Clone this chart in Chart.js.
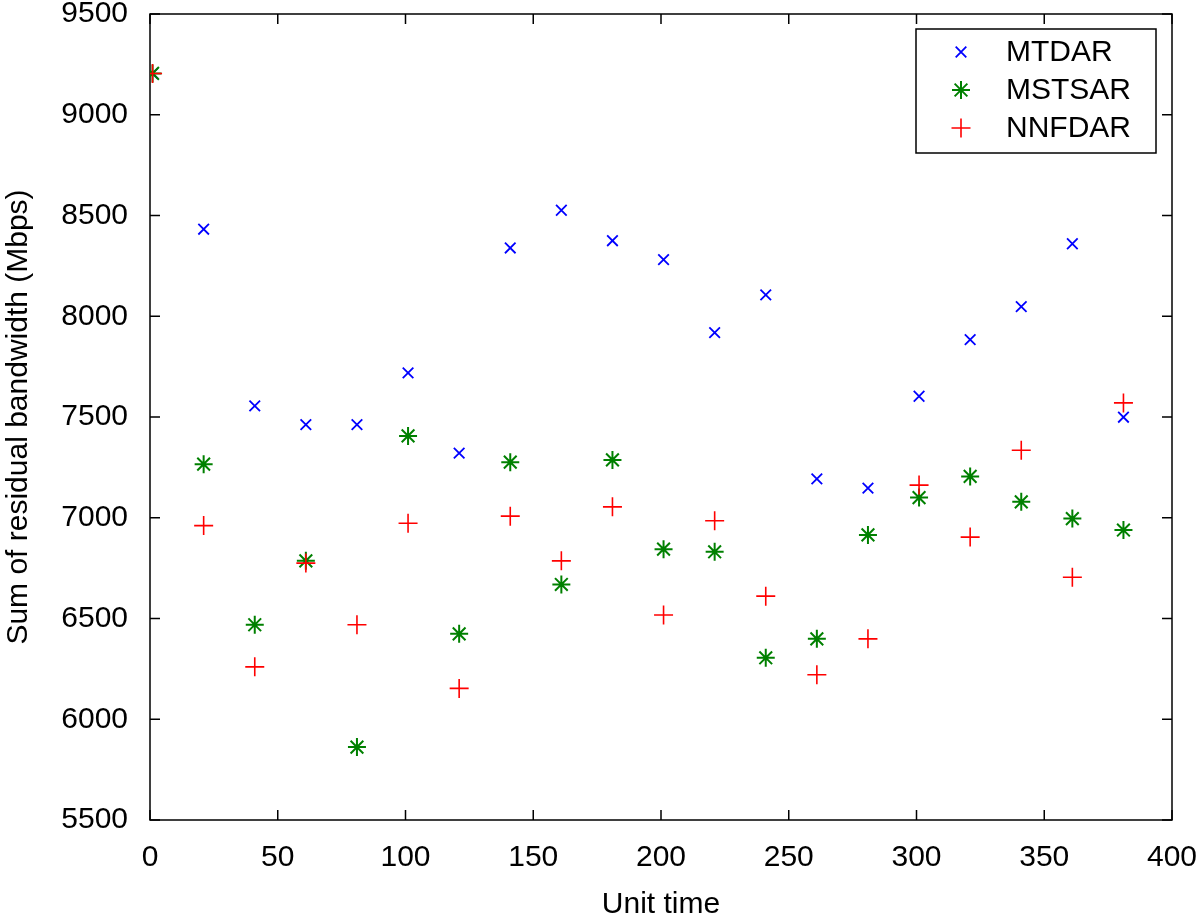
<!DOCTYPE html>
<html>
<head>
<meta charset="utf-8">
<script src="https://cdn.jsdelivr.net/npm/chart.js@4.4.1/dist/chart.umd.min.js"></script>
<style>
  html, body { margin: 0; padding: 0; background: #fff; }
  canvas { display: block; }
</style>
</head>
<body>
<canvas id="myChart" width="1200" height="924"></canvas>
<script>
// time steps (x) and residual bandwidth per method
const timeSteps = [1, 21, 41, 61, 81, 101, 121, 141, 161, 181, 201, 221, 241, 261, 281, 301, 321, 341, 361, 381]
const mtdar  = [9205, 8432, 7555, 7462, 7462, 7719, 7321, 8339, 8526, 8375, 8281, 7919, 8106, 7193, 7147, 7603, 7884, 8048, 8360, 7499]
const mstsar = [9205, 7266, 6469, 6786, 5862, 7406, 6424, 7276, 6669, 7287, 6844, 6831, 6305, 6399, 6915, 7100, 7205, 7079, 6996, 6939]
const nnfdar = [9205, 6961, 6260, 6775, 6469, 6973, 6153, 7008, 6786, 7054, 6517, 6985, 6611, 6221, 6399, 7162, 6904, 7335, 6705, 7570]
const seriesNames = ['MTDAR', 'MSTSAR', 'NNFDAR']
const xTickStep = 50
const yTickStep = 500

const fontFamily = '"Liberation Sans", Arial, Helvetica, sans-serif'

function toPoints(values) {
  return values.map((v, i) => ({ x: timeSteps[i], y: v }))
}

// frame with inward ticks on all four sides
const frameTicks = {
  id: 'frameTicks',
  beforeDatasetsDraw(chart) {
    const { ctx, chartArea: a, scales } = chart
    const len = 10
    ctx.save()
    ctx.strokeStyle = '#000'
    ctx.lineWidth = 1.5
    ctx.beginPath()
    scales.x.ticks.forEach(t => {
      const px = scales.x.getPixelForValue(t.value)
      ctx.moveTo(px, a.bottom); ctx.lineTo(px, a.bottom - len)
      ctx.moveTo(px, a.top); ctx.lineTo(px, a.top + len)
    })
    scales.y.ticks.forEach(t => {
      const py = scales.y.getPixelForValue(t.value)
      ctx.moveTo(a.left, py); ctx.lineTo(a.left + len, py)
      ctx.moveTo(a.right, py); ctx.lineTo(a.right - len, py)
    })
    ctx.stroke()
    ctx.strokeRect(a.left, a.top, a.right - a.left, a.bottom - a.top)
    ctx.restore()
  }
}

// legend box in the upper right corner of the plot
const boxLegend = {
  id: 'boxLegend',
  afterDraw(chart) {
    const { ctx, chartArea: a } = chart
    const boxW = 240, boxH = 124
    const bx = a.right - 16 - boxW
    const by = a.top + 15
    ctx.save()
    ctx.fillStyle = '#fff'
    ctx.fillRect(bx, by, boxW, boxH)
    ctx.strokeStyle = '#000'
    ctx.lineWidth = 1.5
    ctx.strokeRect(bx, by, boxW, boxH)
    ctx.font = '30px ' + fontFamily
    ctx.textBaseline = 'middle'
    ctx.textAlign = 'left'
    chart.data.datasets.forEach((ds, i) => {
      const cy = by + 23 + i * 38
      ctx.strokeStyle = ds.borderColor
      ctx.lineWidth = ds.borderWidth
      Chart.helpers.drawPoint(ctx, {
        pointStyle: ds.pointStyle, radius: ds.pointRadius, rotation: 0, borderWidth: ds.borderWidth
      }, bx + 45, cy)
      ctx.fillStyle = '#000'
      ctx.fillText(ds.label, bx + 90, cy + 1)
    })
    ctx.restore()
  }
}

const ctx = document.getElementById('myChart')

new Chart(ctx, {
  type: 'scatter',
  data: {
    datasets: [
      {
        label: seriesNames[0],
        data: toPoints(mtdar),
        pointStyle: 'crossRot',
        pointRadius: 7.5,
        borderColor: '#0000ff',
        backgroundColor: '#0000ff',
        borderWidth: 1.8,
        order: 2
      },
      {
        label: seriesNames[1],
        data: toPoints(mstsar),
        pointStyle: 'star',
        pointRadius: 9,
        borderColor: '#008000',
        backgroundColor: '#008000',
        borderWidth: 2,
        order: 1
      },
      {
        label: seriesNames[2],
        data: toPoints(nnfdar),
        pointStyle: 'cross',
        pointRadius: 9.5,
        borderColor: '#ff0000',
        backgroundColor: '#ff0000',
        borderWidth: 1.6,
        order: 0
      }
    ]
  },
  options: {
    responsive: false,
    animation: false,
    devicePixelRatio: 1,
    layout: { padding: { top: 14, right: 28, bottom: 0, left: 0 } },
    plugins: {
      legend: { display: false },
      tooltip: { enabled: false }
    },
    scales: {
      x: {
        type: 'linear',
        min: 0,
        max: 400,
        grid: { display: false, drawTicks: false },
        border: { display: false },
        ticks: {
          stepSize: xTickStep,
          padding: 20,
          color: '#000',
          maxRotation: 0,
          font: { family: fontFamily, size: 30 },
          callback: value => String(value)
        },
        title: {
          display: true,
          text: 'Unit time',
          color: '#000',
          padding: { top: 0, bottom: 1 },
          font: { family: fontFamily, size: 30 }
        },
        afterFit(scale) {
          scale.height = 104
          scale.paddingLeft = 0
          scale.paddingRight = 0
        }
      },
      y: {
        type: 'linear',
        min: 5500,
        max: 9500,
        grid: { display: false, drawTicks: false },
        border: { display: false },
        ticks: {
          stepSize: yTickStep,
          padding: 22,
          color: '#000',
          font: { family: fontFamily, size: 30 },
          callback: value => String(value)
        },
        title: {
          display: true,
          text: 'Sum of residual bandwidth (Mbps)',
          color: '#000',
          padding: { top: 1, bottom: 0 },
          font: { family: fontFamily, size: 30 }
        },
        afterFit(scale) {
          scale.width = 150
          scale.paddingTop = 0
          scale.paddingBottom = 0
        }
      }
    }
  },
  plugins: [frameTicks, boxLegend]
})
</script>
</body>
</html>
